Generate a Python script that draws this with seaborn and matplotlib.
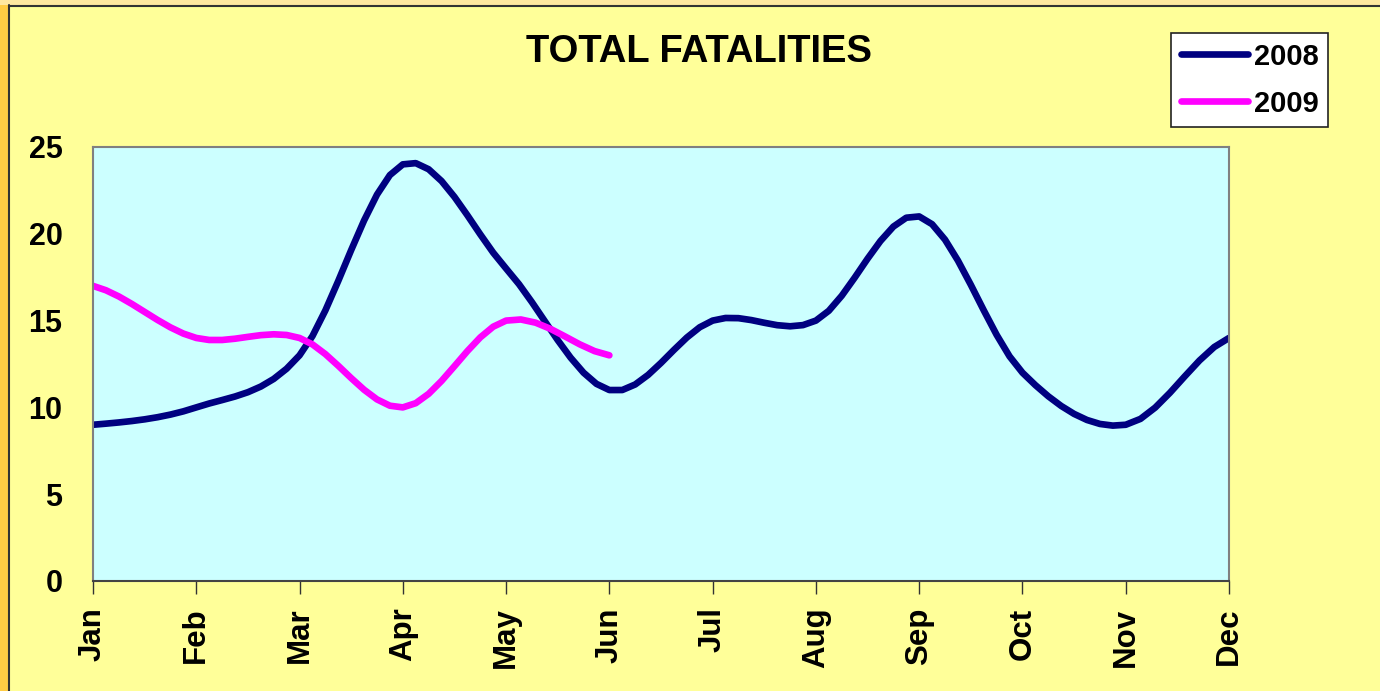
import numpy as np
import pandas as pd
import matplotlib
matplotlib.use("Agg")
import matplotlib.pyplot as plt
from matplotlib.lines import Line2D
from matplotlib.patches import Rectangle
import seaborn as sns

months = ["Jan", "Feb", "Mar", "Apr", "May", "Jun",
          "Jul", "Aug", "Sep", "Oct", "Nov", "Dec"]
fatalities_2008 = [9, 10, 13, 24, 18, 11, 15, 15, 21, 12, 9, 14]
fatalities_2009 = [17, 14, 14, 10, 15, 13]
series_names = ["2008", "2009"]
y_ticks = [0, 5, 10, 15, 20, 25]
title_text = "TOTAL FATALITIES"

colors = {"2008": "#000080", "2009": "#FF00FF"}


def smooth(values, steps=8):
    """Catmull-Rom rendering of a smoothed line (like a spreadsheet's 'smoothed line')."""
    v = np.asarray(values, dtype=float)
    n = len(v)
    xs, ys = [], []
    for i in range(n - 1):
        p0 = v[i - 1] if i > 0 else v[i]
        p1, p2 = v[i], v[i + 1]
        p3 = v[i + 2] if i + 2 < n else v[i + 1]
        m1 = (p2 - p0) / 2.0
        m2 = (p3 - p1) / 2.0
        t = np.linspace(0, 1, steps, endpoint=(i == n - 2))
        h00 = 2 * t**3 - 3 * t**2 + 1
        h10 = t**3 - 2 * t**2 + t
        h01 = -2 * t**3 + 3 * t**2
        h11 = t**3 - t**2
        ys.extend(h00 * p1 + h10 * m1 + h01 * p2 + h11 * m2)
        xs.extend(i + t)
    return np.array(xs), np.array(ys)


frames = []
for name, vals in zip(series_names, [fatalities_2008, fatalities_2009]):
    sx, sy = smooth(vals)
    frames.append(pd.DataFrame({"month": sx, "value": sy, "year": name}))
df = pd.concat(frames, ignore_index=True)

sns.set_theme(style="white")
plt.rcParams["font.family"] = ["Liberation Sans", "DejaVu Sans"]
plt.rcParams["font.weight"] = "bold"
plt.rcParams["text.color"] = "black"
plt.rcParams["xtick.color"] = "black"
plt.rcParams["ytick.color"] = "black"

W, H = 1380, 691
fig = plt.figure(figsize=(W / 100, H / 100), dpi=100)
fig.patch.set_facecolor("#FFFF99")

# slide-like frame: orange strip on the left and top, dark border line
fig.add_artist(Rectangle((0, 0), 8 / W, 1, transform=fig.transFigure,
                         facecolor="#FFCC44", edgecolor="none", zorder=0))
fig.add_artist(Rectangle((0, 1 - 5 / H), 1, 5 / H, transform=fig.transFigure,
                         facecolor="#FFE8A0", edgecolor="none", zorder=0))
fig.add_artist(Line2D([8.5 / W, 8.5 / W], [0, 1 - 5 / H], transform=fig.transFigure,
                      color="#333333", lw=1.5))
fig.add_artist(Line2D([8.5 / W, 1], [1 - 5.5 / H, 1 - 5.5 / H], transform=fig.transFigure,
                      color="#333333", lw=1.5))

ax = fig.add_axes([93 / W, 1 - 581 / H, (1229 - 93) / W, (581 - 147) / H])
ax.set_facecolor("#CCFFFF")

sns.lineplot(data=df, x="month", y="value", hue="year", palette=colors,
             sort=False, estimator=None, lw=4.8, ax=ax, legend=False)
for ln in ax.lines:
    ln.set_solid_capstyle("round")
    ln.set_solid_joinstyle("round")

ax.set_xlim(0, len(months) - 1)
ax.set_ylim(0, 25)
ax.set_xticks(range(len(months)))
ax.set_xticklabels(months, rotation=90, fontsize=22.5, fontweight="bold",
                   va="top", ha="center", color="black")
ax.set_yticks(y_ticks)
ax.set_yticklabels([str(t) for t in y_ticks], fontsize=22, fontweight="bold",
                   color="black")
ax.tick_params(axis="x", direction="out", length=9, width=1, color="#333333", pad=10,
               bottom=True, labelcolor="black")
ax.tick_params(axis="y", length=0, pad=22, labelcolor="black")
ax.set_xlabel("")
ax.set_ylabel("")
ax.grid(False)
for side in ["left", "top", "right"]:
    ax.spines[side].set_color("#808080")
    ax.spines[side].set_linewidth(1.5)
ax.spines["bottom"].set_color("#444444")
ax.spines["bottom"].set_linewidth(1.5)

fig.text(699 / W, 1 - 52 / H, title_text, ha="center", va="center",
         fontsize=27.5, fontweight="bold", color="black")

handles = [Line2D([0], [0], color=colors[n], lw=4.8, solid_capstyle="round")
           for n in series_names]
leg = ax.legend(handles, series_names, loc="upper left",
                bbox_to_anchor=(1171 / W, 1 - 33 / H), bbox_transform=fig.transFigure,
                frameon=True, fancybox=False, framealpha=1, facecolor="white",
                edgecolor="#222222", prop={"size": 21, "weight": "bold"},
                handlelength=2.3, handletextpad=0.2, borderpad=0.33,
                labelspacing=0.65, borderaxespad=0)
leg.get_frame().set_linewidth(1.2)
for txt in leg.get_texts():
    txt.set_color("black")

fig.savefig("out.png", dpi=100, facecolor=fig.get_facecolor())
